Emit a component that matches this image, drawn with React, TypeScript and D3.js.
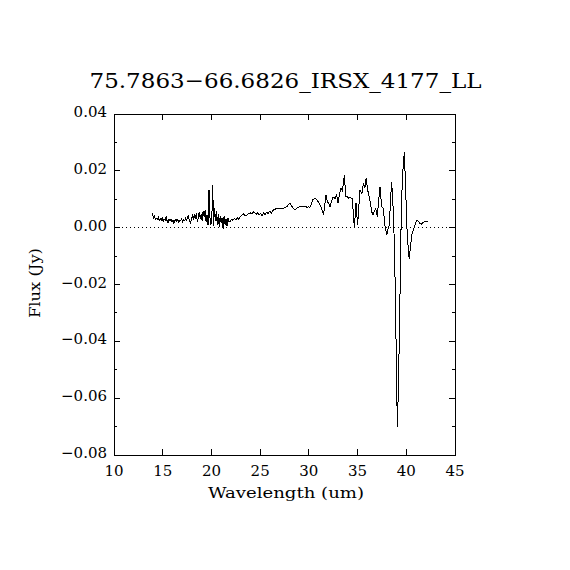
import { useEffect, useRef } from 'react';
import * as d3 from 'd3';

const title = '75.7863\u221266.6826_IRSX_4177_LL';
const xLabel = 'Wavelength (um)';
const yLabel = 'Flux (Jy)';

const xTicks = [10, 15, 20, 25, 30, 35, 40, 45];
const yTicks = [0.04, 0.02, 0.0, -0.02, -0.04, -0.06, -0.08];
const yMinorTicks = [0.03, 0.01, -0.01, -0.03, -0.05, -0.07];

const wavelength = [
  13.93, 14.05, 14.15, 14.25, 14.35, 14.45, 14.55, 14.65, 14.75, 14.85,
  14.95, 15.05, 15.15, 15.25, 15.35, 15.45, 15.55, 15.65, 15.75, 15.85,
  15.95, 16.05, 16.15, 16.25, 16.35, 16.45, 16.55, 16.65, 16.75, 16.85,
  16.95, 17.05, 17.15, 17.25, 17.35, 17.45, 17.55, 17.65, 17.75, 17.85,
  17.95, 18.05, 18.15, 18.25, 18.35, 18.45, 18.55, 18.65, 18.75, 18.85,
  18.95, 19.05, 19.15, 19.25, 19.35, 19.45, 19.55, 19.65, 19.75, 19.85,
  19.95, 20.05, 20.13, 20.22, 20.3, 20.4, 20.5, 20.6, 20.7, 20.8,
  20.9, 21.0, 21.1, 21.2, 21.3, 21.4, 21.5, 21.6, 21.7, 21.8,
  21.9, 22.05, 22.2, 22.35, 22.5, 22.65, 22.8, 22.95, 23.1, 23.27,
  23.4, 23.55, 23.7, 23.85, 24.0, 24.15, 24.3, 24.45, 24.6, 24.75,
  24.9, 25.05, 25.2, 25.35, 25.5, 25.65, 25.8, 26.0, 26.15, 26.3,
  26.45, 26.6, 26.75, 26.9, 27.05, 27.2, 27.35, 27.5, 27.65, 27.8,
  27.95, 28.06, 28.2, 28.35, 28.58, 28.75, 28.9, 29.05, 29.27, 29.45,
  29.6, 29.8, 30.0, 30.1, 30.25, 30.4, 30.6, 30.8, 30.95, 31.07,
  31.3, 31.5, 31.76, 31.9, 32.05, 32.17, 32.35, 32.5, 32.7, 32.85,
  33.0, 33.15, 33.3, 33.45, 33.64, 33.8, 33.95, 34.05, 34.2, 34.45,
  34.67, 34.84, 35.0, 35.25, 35.45, 35.6, 35.75, 35.87, 36.05, 36.2,
  36.35, 36.45, 36.6, 36.75, 36.86, 37.03, 37.15, 37.3, 37.47, 37.64,
  37.8, 37.99, 38.15, 38.26, 38.4, 38.5, 38.65, 38.8, 38.95, 39.08,
  39.2, 39.35, 39.5, 39.65, 39.8, 39.95, 40.1, 40.3, 40.45, 40.6,
  40.8, 40.95, 41.1, 41.25, 41.4, 41.55, 41.7, 41.85, 42.0, 42.25,
];

const flux = [
  0.0052, 0.0035, 0.004, 0.0028, 0.0033, 0.003, 0.0036, 0.0025, 0.0031, 0.0027,
  0.0034, 0.0022, 0.003, 0.0026, 0.0038, 0.0024, 0.0018, 0.0029, 0.0023, 0.0031,
  0.002, 0.0027, 0.0015, 0.0025, 0.003, 0.0022, 0.0028, 0.0019, 0.0026, 0.0024,
  0.003, 0.0021, 0.0027, 0.0025, 0.0033, 0.0026, 0.0038, 0.0042, 0.0022, 0.0017,
  0.003, 0.0041, 0.0028, 0.0046, 0.003, 0.0052, 0.002, 0.0035, 0.0055, 0.0031,
  0.0048, 0.0024, 0.0058, 0.0038, 0.0062, 0.002, 0.0045, 0.0008, 0.0133, 0.0035,
  0.001, 0.0045, 0.015, 0.0005, 0.007, 0.0025, 0.006, 0.001, 0.0048, 0.0002,
  0.004, 0.0015, 0.0035, -0.0003, 0.0042, 0.001, 0.003, 0.0005, 0.0035, 0.0022,
  0.0021, 0.003, 0.0026, 0.0033, 0.0028, 0.0035, 0.003, 0.0038, 0.0042, 0.005,
  0.0044, 0.0042, 0.0046, 0.005, 0.0052, 0.0048, 0.0056, 0.0052, 0.0047, 0.0053,
  0.0045, 0.005, 0.0042, 0.0052, 0.0046, 0.0054, 0.005, 0.0058, 0.0052, 0.006,
  0.0064, 0.0066, 0.0068, 0.0069, 0.0067, 0.0069, 0.0068, 0.007, 0.0072, 0.0076,
  0.0083, 0.0086, 0.0078, 0.007, 0.0062, 0.0068, 0.0072, 0.0074, 0.0076, 0.0073,
  0.0075, 0.0072, 0.0073, 0.0072, 0.0082, 0.0098, 0.0103, 0.01, 0.0092, 0.0086,
  0.007, 0.0045, 0.0115, 0.009, 0.0085, 0.0074, 0.0095, 0.0108, 0.0102, 0.0115,
  0.0086, 0.012, 0.014, 0.013, 0.0185, 0.0109, 0.011, 0.0104, 0.0105, 0.0104,
  0.0, 0.0085, 0.001, 0.0133, 0.012, 0.0156, 0.014, 0.0174, 0.013, 0.0109,
  0.008, 0.0056, 0.0045, 0.006, 0.0068, 0.0039, 0.009, 0.0144, 0.0075, 0.0068,
  0.001, -0.0026, 0.0, 0.001, 0.011, 0.0162, 0.007, -0.008, -0.04, -0.07,
  -0.055, -0.025, 0.0085, 0.02, 0.0265, 0.012, -0.003, -0.011, -0.006, -0.002,
  0.0, 0.0015, 0.0027, 0.0022, 0.0015, 0.0012, 0.0018, 0.002, 0.0021, 0.0021,
];

export default function App() {
  const svgRef = useRef<SVGSVGElement>(null);
  const width = 570;
  const height = 570;

  useEffect(() => {
    const svg = d3.select(svgRef.current);
    svg.selectAll('*').remove();

    const margin = { top: 114, right: 115, bottom: 115, left: 114 };
    const innerWidth = width - margin.left - margin.right;
    const innerHeight = height - margin.top - margin.bottom;
    const font = '"DejaVu Serif", "Liberation Serif", serif';

    const xScale = d3.scaleLinear().domain([10, 45]).range([0, innerWidth]);
    const yScale = d3.scaleLinear().domain([-0.08, 0.04]).range([innerHeight, 0]);

    svg.append('rect').attr('width', width).attr('height', height).attr('fill', 'white');

    // Title
    svg.append('text')
      .attr('x', 285.5)
      .attr('y', 88)
      .attr('text-anchor', 'middle')
      .attr('textLength', 392)
      .attr('lengthAdjust', 'spacingAndGlyphs')
      .style('font-family', font)
      .style('font-size', '21px')
      .style('fill', 'black')
      .text(title);

    const g = svg.append('g')
      .attr('transform', `translate(${margin.left},${margin.top})`);

    // Zero line
    g.append('line')
      .attr('x1', 0)
      .attr('x2', innerWidth)
      .attr('y1', yScale(0))
      .attr('y2', yScale(0))
      .attr('stroke', 'black')
      .attr('stroke-width', 1)
      .attr('stroke-dasharray', '1,3')
      .attr('shape-rendering', 'crispEdges');

    // Spectrum
    const points = wavelength.map((w, i) => [w, flux[i]] as [number, number]);
    const line = d3.line<[number, number]>()
      .x(d => xScale(d[0]))
      .y(d => yScale(d[1]));

    g.append('path')
      .datum(points)
      .attr('fill', 'none')
      .attr('stroke', 'black')
      .attr('stroke-width', 1)
      .attr('shape-rendering', 'crispEdges')
      .attr('d', line);

    // Frame
    g.append('rect')
      .attr('width', innerWidth)
      .attr('height', innerHeight)
      .attr('fill', 'none')
      .attr('stroke', 'black')
      .attr('stroke-width', 1)
      .attr('shape-rendering', 'crispEdges');

    const ticks = g.append('g')
      .attr('stroke', 'black')
      .attr('stroke-width', 1)
      .attr('shape-rendering', 'crispEdges');

    // x ticks, bottom and top
    xTicks.forEach(t => {
      const x = xScale(t);
      ticks.append('line').attr('x1', x).attr('x2', x).attr('y1', innerHeight).attr('y2', innerHeight - 6);
      ticks.append('line').attr('x1', x).attr('x2', x).attr('y1', 0).attr('y2', 6);
    });

    // y ticks, left and right
    yTicks.forEach(t => {
      const y = yScale(t);
      ticks.append('line').attr('x1', 0).attr('x2', 6).attr('y1', y).attr('y2', y);
      ticks.append('line').attr('x1', innerWidth).attr('x2', innerWidth - 6).attr('y1', y).attr('y2', y);
    });
    yMinorTicks.forEach(t => {
      const y = yScale(t);
      ticks.append('line').attr('x1', 0).attr('x2', 3).attr('y1', y).attr('y2', y);
      ticks.append('line').attr('x1', innerWidth).attr('x2', innerWidth - 3).attr('y1', y).attr('y2', y);
    });

    // Tick labels
    g.selectAll('.xlabel')
      .data(xTicks)
      .enter().append('text')
      .attr('x', d => xScale(d))
      .attr('y', innerHeight + 21)
      .attr('text-anchor', 'middle')
      .style('font-family', font)
      .style('font-size', '15px')
      .text(d => String(d));

    const fmt = d3.format('.2f');
    g.selectAll('.ylabel')
      .data(yTicks)
      .enter().append('text')
      .attr('x', -7)
      .attr('y', d => yScale(d) + 3)
      .attr('text-anchor', 'end')
      .style('font-family', font)
      .style('font-size', '15px')
      .text(d => fmt(d).replace('-', '\u2212'));

    // Axis titles
    svg.append('text')
      .attr('x', 286)
      .attr('y', 498)
      .attr('text-anchor', 'middle')
      .attr('textLength', 156)
      .attr('lengthAdjust', 'spacingAndGlyphs')
      .style('font-family', font)
      .style('font-size', '15px')
      .text(xLabel);

    svg.append('text')
      .attr('transform', 'translate(40,283) rotate(-90)')
      .attr('text-anchor', 'middle')
      .attr('textLength', 70)
      .attr('lengthAdjust', 'spacingAndGlyphs')
      .style('font-family', font)
      .style('font-size', '15px')
      .text(yLabel);
  }, []);

  return (
    <div style={{ position: 'absolute', left: 0, top: 0 }}>
      <svg ref={svgRef} width={width} height={height} style={{ display: 'block' }} />
    </div>
  );
}
